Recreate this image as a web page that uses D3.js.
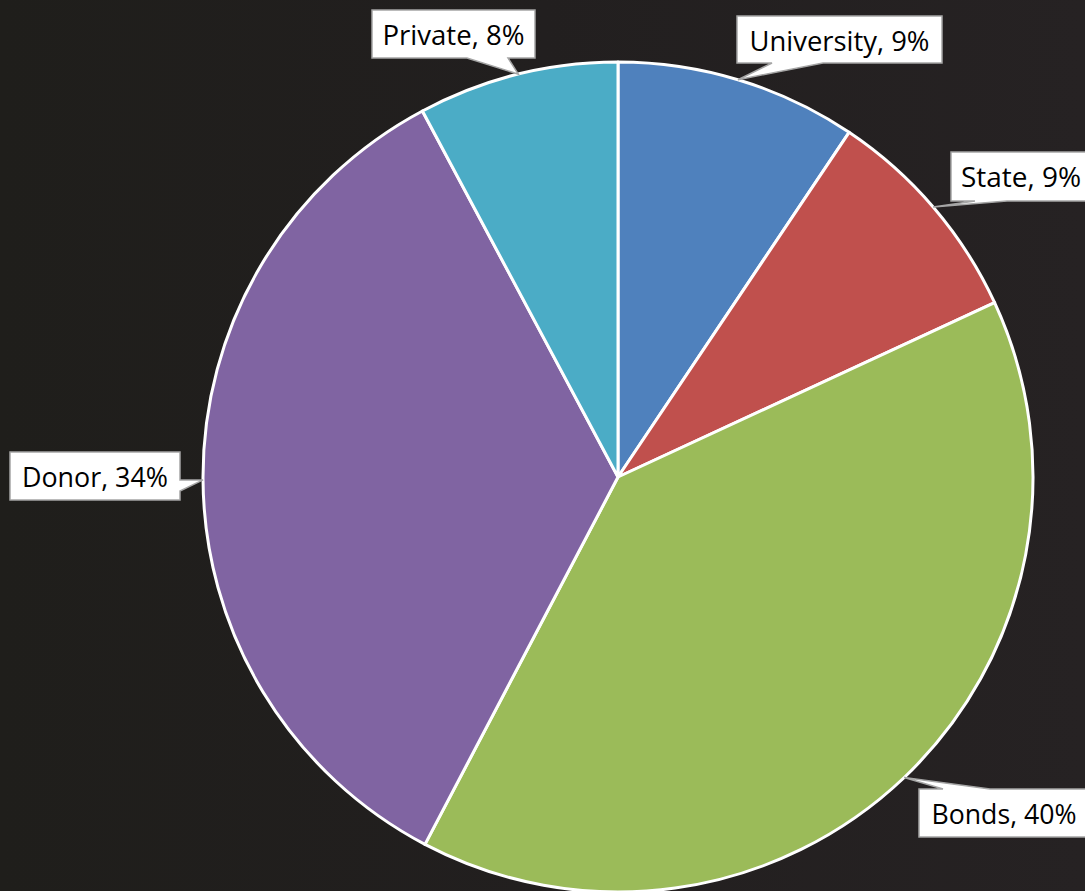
<!DOCTYPE html>
<html><head><meta charset="utf-8">
<script src="https://cdn.jsdelivr.net/npm/d3@7"></script>
<style>html,body{margin:0;padding:0;background:#221f1f;overflow:hidden}</style>
</head><body>
<svg id="chart" width="1085" height="891"></svg>
<script>
const categories = ["University", "State", "Bonds", "Donor", "Private"];
const values = [9.4, 8.7, 39.6, 34.49, 7.81];
const colors = ["#4f81bd", "#c0504d", "#9bbb59", "#8064a2", "#4bacc6"];

// callout layout (box rect, pointer edge & base, tip angle in degrees clockwise from top)
const callouts = [
  {box:[737,16,205,47], edge:"bottom", base:[772,823], tipDeg:16.8, textW:180},
  {box:[951,152,140,49], edge:"bottom", base:[975,1007], tipDeg:49.4, textW:120},
  {box:[919,789,170,48], edge:"top", base:[943,990], tipDeg:136.4, textW:145},
  {box:[10,452,170,48], edge:"right", base:[480,491], tipDeg:269.6, textW:146},
  {box:[372,10,163,48], edge:"bottom", base:[467,508], tipDeg:346.1, textW:142}
];

const W = 1085, H = 891, cx = 618, cy = 477, R = 415;
const svg = d3.select("#chart");
const defs = svg.append("defs");
const g1 = defs.append("linearGradient").attr("id","bg").attr("x1","0").attr("y1","0").attr("x2","1").attr("y2","0");
g1.append("stop").attr("offset","0").attr("stop-color","#1f1e1b");
g1.append("stop").attr("offset","0.5").attr("stop-color","#221f1f");
g1.append("stop").attr("offset","1").attr("stop-color","#262223");
svg.append("rect").attr("width",W).attr("height",H).attr("fill","url(#bg)");

const pie = d3.pie().sort(null).value(d => d)(values);
const arc = d3.arc().innerRadius(0).outerRadius(R);
const g = svg.append("g").attr("transform",`translate(${cx},${cy})`);
g.selectAll("path").data(pie).join("path")
  .attr("d", arc)
  .attr("fill", (d,i) => colors[i])
  .attr("stroke", "#ffffff").attr("stroke-width", 3).attr("stroke-linejoin","round");

const total = d3.sum(values);
function calloutPath(c) {
  const [x,y,w,h] = c.box;
  const a = c.tipDeg * Math.PI/180;
  const tx = cx + R*Math.sin(a), ty = cy - R*Math.cos(a);
  const [b0,b1] = c.base;
  let p;
  if (c.edge === "bottom") {
    p = [[x,y],[x+w,y],[x+w,y+h],[b1,y+h],[tx,ty],[b0,y+h],[x,y+h]];
  } else if (c.edge === "top") {
    p = [[x,y],[b0,y],[tx,ty],[b1,y],[x+w,y],[x+w,y+h],[x,y+h]];
  } else if (c.edge === "right") {
    p = [[x,y],[x+w,y],[x+w,b0],[tx,ty],[x+w,b1],[x+w,y+h],[x,y+h]];
  } else {
    p = [[x,y],[x+w,y],[x+w,y+h],[x,y+h],[x,b1],[tx,ty],[x,b0]];
  }
  return "M" + p.map(q => q.join(",")).join("L") + "Z";
}

const lab = svg.append("g");
callouts.forEach((c, i) => {
  lab.append("path").attr("d", calloutPath(c))
    .attr("fill","#ffffff").attr("stroke","#a5a5a5").attr("stroke-width",1.5);
  const pct = Math.round(values[i] / total * 100);
  lab.append("text")
    .attr("x", c.box[0] + c.box[2]/2).attr("y", c.box[1] + 35)
    .attr("text-anchor","middle")
    .attr("font-family","'Open Sans', 'Noto Sans', sans-serif")
    .attr("font-size", 28).attr("fill","#000000")
    .attr("textLength", c.textW).attr("lengthAdjust","spacingAndGlyphs")
    .text(`${categories[i]}, ${pct}%`);
});
</script>
</body></html>
